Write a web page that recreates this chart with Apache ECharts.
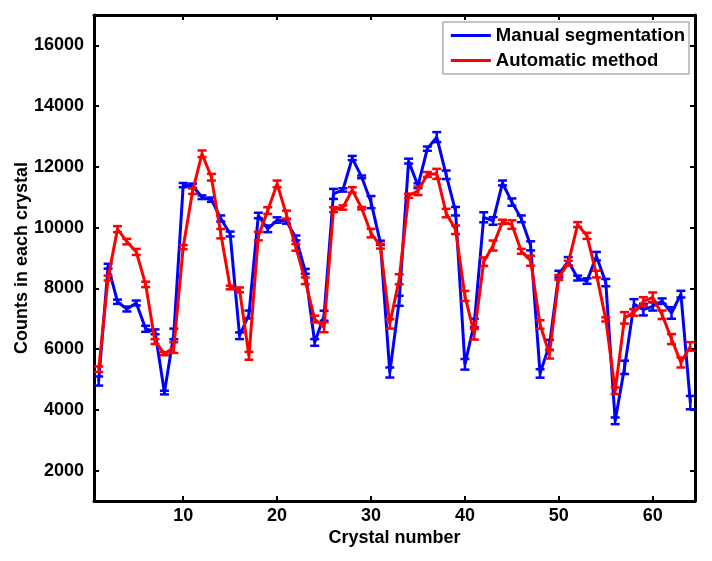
<!DOCTYPE html>
<html>
<head>
<meta charset="utf-8">
<script src="https://cdn.jsdelivr.net/npm/echarts@6/dist/echarts.min.js"></script>
<style>
html,body{margin:0;padding:0;background:#fff;}
#chart{width:712px;height:561px;}
</style>
</head>
<body>
<div id="chart"></div>
<script>
var crystals = [1,2,3,4,5,6,7,8,9,10,11,12,13,14,15,16,17,18,19,20,21,22,23,24,25,26,27,28,29,30,31,32,33,34,35,36,37,38,39,40,41,42,43,44,45,46,47,48,49,50,51,52,53,54,55,56,57,58,59,60,61,62,63,64];
var manual = [4950,8730,7560,7320,7520,6670,6570,4570,6500,11400,11380,11000,10920,10300,9790,6440,7140,10400,9960,10250,10210,9660,8560,6220,7100,11110,11240,12290,11670,10840,9500,5230,7590,12190,11380,12600,12980,11740,10540,5500,6860,10340,10220,11470,10840,10290,9400,5200,6140,8470,8890,8340,8240,9060,8190,3640,5400,7480,7300,7410,7580,7190,7810,4240];
var manualErr = [150,80,70,80,80,100,80,60,175,70,70,60,70,100,80,110,130,90,110,90,80,80,80,110,165,165,55,70,45,200,70,165,165,80,80,70,165,140,140,175,140,165,125,80,120,110,150,140,165,110,140,80,90,140,120,110,220,165,190,140,90,190,110,220];
var automatic = [5340,8340,9950,9540,9200,8130,6250,5850,6050,9360,11200,12430,11660,9800,8030,7950,5780,9720,10560,11440,10420,9350,8250,6990,6720,10590,10660,11240,10640,9820,9390,6830,8300,11050,11210,11750,11770,10480,9930,7750,6490,8880,9410,10190,10100,9220,8910,6810,5830,8360,8830,10100,9730,8470,6980,4630,7030,7210,7570,7700,7130,6330,5560,6090];
var automaticErr = [90,80,100,90,100,90,80,50,175,70,90,110,110,155,60,80,130,140,110,110,140,110,110,110,165,80,70,90,40,140,80,155,165,70,140,80,165,140,140,165,175,140,165,70,140,80,165,140,140,80,80,80,100,110,70,110,190,110,140,165,140,165,165,140];
var xTicks = [10,20,30,40,50,60];
var yTicks = [2000,4000,6000,8000,10000,12000,14000,16000];
var seriesNames = ['Manual segmentation','Automatic method'];

var FONT = '"Liberation Sans", Arial, Helvetica, sans-serif';
var BLUE = '#0000ff', RED = '#ff0000';

function line(vals){ return crystals.map(function(c,i){ return [c, vals[i]]; }); }
function errData(vals, errs){ return crystals.map(function(c,i){ return [c, vals[i]-errs[i], vals[i]+errs[i]]; }); }
function errRender(color){
  return function(params, api){
    var x = api.value(0);
    var lo = api.coord([x, api.value(1)]);
    var hi = api.coord([x, api.value(2)]);
    var hw = 4.5;
    var st = {stroke: color, lineWidth: 2.5};
    return {type:'group', children:[
      {type:'line', shape:{x1:lo[0],y1:lo[1],x2:hi[0],y2:hi[1]}, style:st},
      {type:'line', shape:{x1:lo[0]-hw,y1:lo[1],x2:lo[0]+hw,y2:lo[1]}, style:st},
      {type:'line', shape:{x1:hi[0]-hw,y1:hi[1],x2:hi[0]+hw,y2:hi[1]}, style:st}
    ]};
  };
}
function plain(v){ return String(v); }

var axisLineStyle = {color:'#000', width:3};
var chart = echarts.init(document.getElementById('chart'), null, {renderer:'canvas'});
chart.setOption({
  animation:false,
  backgroundColor:'#fff',
  grid:{left:94, right:17, top:15, bottom:60, containLabel:false, outerBoundsMode:'none'},
  legend:{
    data: seriesNames,
    orient:'vertical',
    right:23, top:22,
    backgroundColor:'#fff',
    borderColor:'#888', borderWidth:1,
    padding:[4,4,4,8],
    itemGap:6,
    itemWidth:40, itemHeight:3,
    icon:'rect',
    textStyle:{fontFamily:FONT, fontSize:18.5, fontWeight:'bold', color:'#000'}
  },
  xAxis:[{
    type:'value', min:0.5, max:64.5, position:'bottom',
    name:'Crystal number', nameLocation:'middle', nameGap:28, nameMoveOverlap:false,
    nameTextStyle:{fontFamily:FONT, fontSize:18, fontWeight:'bold', color:'#000'},
    axisLine:{show:true, lineStyle:axisLineStyle},
    axisTick:{show:true, inside:true, length:5, lineStyle:{color:'#000', width:2}, customValues:xTicks},
    axisLabel:{show:true, customValues:xTicks, formatter:plain, margin:6, fontFamily:FONT, fontSize:18, fontWeight:'bold', color:'#000'},
    splitLine:{show:false}
  },{
    type:'value', min:0.5, max:64.5, position:'top',
    axisLine:{show:true, lineStyle:axisLineStyle},
    axisTick:{show:true, inside:true, length:5, lineStyle:{color:'#000', width:2}, customValues:xTicks},
    axisLabel:{show:false},
    splitLine:{show:false}
  }],
  yAxis:[{
    type:'value', min:1000, max:17000, position:'left',
    name:'Counts in each crystal', nameLocation:'middle', nameGap:63, nameRotate:90, nameMoveOverlap:false,
    nameTextStyle:{fontFamily:FONT, fontSize:18, fontWeight:'bold', color:'#000'},
    axisLine:{show:true, lineStyle:axisLineStyle},
    axisTick:{show:true, inside:true, length:5, lineStyle:{color:'#000', width:2}, customValues:yTicks},
    axisLabel:{show:true, customValues:yTicks, formatter:plain, margin:10, fontFamily:FONT, fontSize:18, fontWeight:'bold', color:'#000'},
    splitLine:{show:false}
  },{
    type:'value', min:1000, max:17000, position:'right',
    axisLine:{show:true, lineStyle:axisLineStyle},
    axisTick:{show:true, inside:true, length:5, lineStyle:{color:'#000', width:2}, customValues:yTicks},
    axisLabel:{show:false},
    splitLine:{show:false}
  }],
  series:[
    {name:seriesNames[0], type:'line', data:line(manual), showSymbol:false, symbol:'none',
     lineStyle:{color:BLUE, width:3}, itemStyle:{color:BLUE}, z:2},
    {name:'manualErr', type:'custom', data:errData(manual, manualErr), renderItem:errRender(BLUE),
     encode:{x:0, y:[1,2]}, z:2},
    {name:seriesNames[1], type:'line', data:line(automatic), showSymbol:false, symbol:'none',
     lineStyle:{color:RED, width:3}, itemStyle:{color:RED}, z:3},
    {name:'automaticErr', type:'custom', data:errData(automatic, automaticErr), renderItem:errRender(RED),
     encode:{x:0, y:[1,2]}, z:3}
  ]
});
</script>
</body>
</html>
